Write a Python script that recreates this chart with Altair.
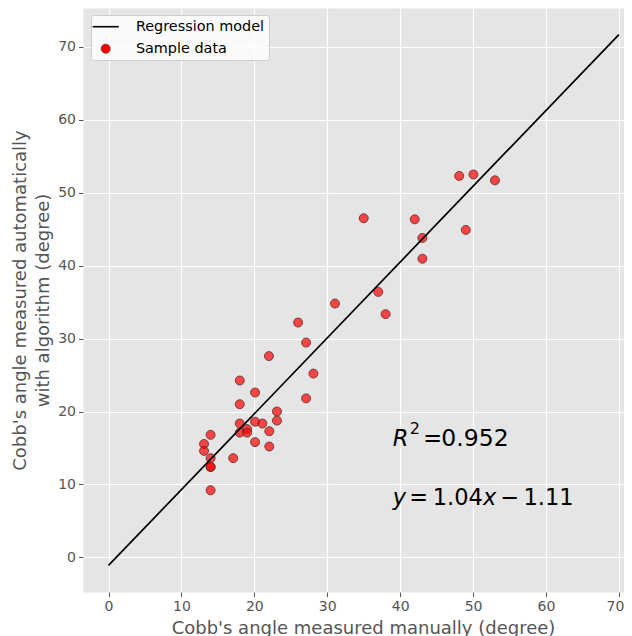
import altair as alt
import pandas as pd

# ---- data ----
manual = [13.1, 13.1, 14.0, 14.0, 14.0, 14.0, 14.0, 17.1, 18.0, 18.0, 18.0, 18.0,
          19.0, 19.0, 20.1, 20.1, 20.1, 21.1, 22.05, 22.05, 22.0, 23.1, 23.1, 26.0,
          27.1, 27.1, 28.1, 31.06, 35.0, 37.0, 38.0, 42.0, 43.05, 43.05, 48.1, 49.0,
          50.05, 53.0]
auto = [15.55, 14.6, 16.8, 13.6, 12.4, 12.4, 9.2, 13.6, 24.25, 21.0, 18.35, 17.1,
        17.6, 17.1, 22.6, 18.6, 15.8, 18.35, 17.3, 15.2, 27.6, 20.0, 18.75, 32.2,
        29.45, 21.8, 25.2, 34.8, 46.5, 36.4, 33.35, 46.35, 43.8, 40.95, 52.3, 44.9,
        52.5, 51.7]
line_x = [0, 70]
line_y = [-1.11, 71.69]
series_names = ["Regression model", "Sample data"]
tick_values = [0, 10, 20, 30, 40, 50, 60, 70]
x_title = "Cobb's angle measured manually (degree)"
y_title = ["Cobb's angle measured automatically", "with algorithm (degree)"]

pts = pd.DataFrame({"manual": manual, "auto": auto, "series": "Sample data"})
reg = pd.DataFrame({"manual": line_x, "auto": line_y})

x_scale = alt.Scale(domain=[-3.5, 70.7], nice=False, zero=False)
y_scale = alt.Scale(domain=[-4.75, 75.33], nice=False, zero=False)

x_axis = alt.Axis(values=tick_values, title=x_title, titleX=280, titleY=41,
                  titleBaseline="alphabetic", titleAlign="center",
                  labelFlush=6, labelFlushOffset=5)
y_axis = alt.Axis(values=tick_values, title=y_title, titleX=-72, titleY=292,
                  titleAngle=270, titleBaseline="top", titleAlign="center",
                  titleLineHeight=23)

legend = alt.Legend(
    title=None, orient="none", legendX=8, legendY=7, padding=4.5,
    fillColor="rgba(255,255,255,0.8)", strokeColor="#cccccc", cornerRadius=3,
    labelFont="DejaVu Sans", labelFontSize=14.4, labelColor="#000000",
    labelOffset=23, symbolOffset=3, symbolSize=81, rowPadding=7,
)

X = alt.X("manual:Q", scale=x_scale, axis=x_axis)
Y = alt.Y("auto:Q", scale=y_scale, axis=y_axis)

line = alt.Chart(reg).mark_line(color="black", strokeWidth=1.7).encode(x=X, y=Y)

points = alt.Chart(pts).mark_point(
    filled=True, size=81, opacity=1, fillOpacity=0.7, strokeOpacity=1,
).encode(
    x=X,
    y=Y,
    color=alt.Color("series:N",
                    scale=alt.Scale(domain=series_names, range=["black", "red"]),
                    legend=legend),
    shape=alt.Shape("series:N",
                    scale=alt.Scale(domain=series_names,
                                    range=["M-2.9,0H2.9", "circle"]),
                    legend=legend),
    stroke=alt.Stroke("series:N",
                      scale=alt.Scale(domain=series_names, range=["black", "#5a2a2a"]),
                      legend=legend),
    strokeWidth=alt.StrokeWidth("series:N",
                                scale=alt.Scale(type="ordinal", domain=series_names,
                                                range=[1.6, 0.8]),
                                legend=legend),
)

ann_x = 39.0


def piece(text, y, dx, dy=0, size=22.5, italic=False):
    df = pd.DataFrame({"manual": [ann_x], "auto": [y], "t": [text]})
    return alt.Chart(df).mark_text(
        align="left", baseline="alphabetic", dx=dx, dy=dy, fontSize=size,
        font="DejaVu Sans", fontStyle="italic" if italic else "normal",
        color="black",
    ).encode(x=X, y=Y, text="t:N")


y1, y2 = 15.28, 7.17
texts = [
    piece("R", y1, 0, italic=True),
    piece("2", y1, 17, dy=-12.4, size=16),
    piece("=", y1, 30.5),
    piece("0.952", y1, 48.5, size=23.5),
    piece("y", y2, 0, italic=True),
    piece("=", y2, 16.4),
    piece("1.04", y2, 39.9),
    piece("x", y2, 90.1, italic=True),
    piece("\u2212", y2, 107.6),
    piece("1.11", y2, 130.6),
]

chart = alt.layer(points, line, *texts).properties(
    width=541, height=584,
    padding={"left": 75, "top": 0, "right": 0, "bottom": 44},
    autosize=alt.AutoSizeParams(type="none"),
    background="white",
).configure_view(
    fill="#E5E5E5", stroke="transparent"
).configure_axis(
    domain=False, grid=True, gridColor="white", gridWidth=1.2,
    tickColor="#555555", tickSize=4.5, tickWidth=1,
    labelColor="#555555", labelFont="DejaVu Sans", labelFontSize=14, labelPadding=3,
    titleColor="#555555", titleFont="DejaVu Sans", titleFontSize=18,
    titleFontWeight="normal",
)

chart.save("out.html", embed_options={"renderer": "svg", "actions": False})
